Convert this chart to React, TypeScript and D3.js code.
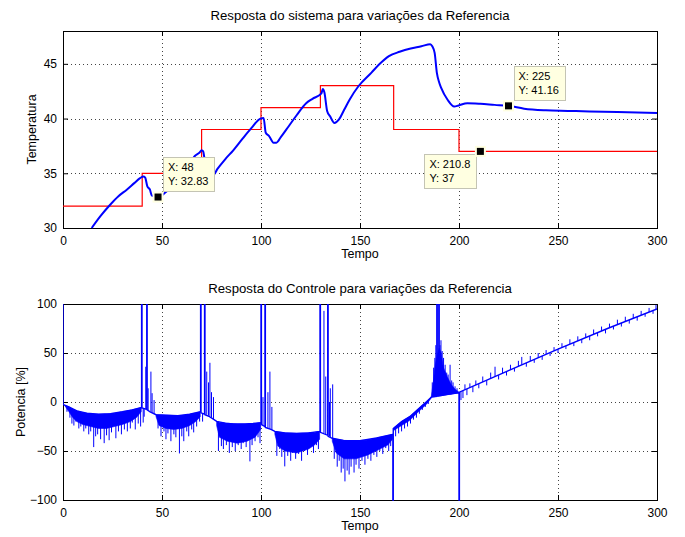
import React, { useEffect, useRef } from 'react';
import * as d3 from 'd3';

// axis ticks
const xTicks = [0, 50, 100, 150, 200, 250, 300];
const tempTicks = [30, 35, 40, 45];
const ctrlTicks = [-100, -50, 0, 50, 100];

// reference (step)
const refT = [0, 40, 70, 100, 130, 167, 200, 300];
const refV = [32, 35, 39, 41, 43, 39, 37, 37];

// measured temperature
const tempT = [14.5, 19, 23.7, 28, 32.2, 36, 38.9, 40.6, 41.5, 42.6, 43.9, 44.8, 46, 48, 52, 56, 60, 63, 66.7, 69, 70, 70.8, 71.5, 73, 75.9, 78, 82, 86, 90.2, 95, 99.7, 101.3, 102.4, 104.1, 106.3, 107.8, 110, 114, 118, 122.8, 126, 130.5, 131.2, 132, 133.4, 134.9, 137.1, 139.3, 142, 144.8, 149.2, 155.8, 160, 164.6, 170, 175.6, 181, 185.5, 186.5, 187.7, 188.8, 190, 191, 194.3, 197.6, 199.8, 204.2, 210.8, 218, 225, 232.9, 243.9, 255, 265.9, 280, 300];
const tempV = [30.0, 31.1, 32.1, 32.9, 33.5, 34.1, 34.55, 34.7, 34.6, 33.8, 33.5, 33.0, 32.9, 32.83, 33.3, 34.0, 34.9, 35.6, 36.6, 36.9, 37.1, 37.0, 36.3, 35.6, 34.85, 35.4, 36.3, 37.1, 38.05, 39.1, 40.0, 40.06, 38.7, 38.4, 37.8, 37.8, 38.3, 39.3, 40.3, 41.4, 41.8, 42.3, 42.7, 42.4, 40.7, 40.2, 39.6, 39.9, 40.8, 41.75, 42.95, 44.2, 45.0, 45.7, 46.1, 46.4, 46.6, 46.8, 46.6, 46.0, 44.2, 43.3, 42.8, 41.7, 41.1, 41.2, 41.4, 41.35, 41.25, 41.16, 40.9, 40.75, 40.7, 40.65, 40.6, 40.5];

// data tips
const tipX = [48, 225, 210.8];
const tipY = [32.83, 41.16, 37];
const tipLabelX = ['48', '225', '210.8'];
const tipLabelY = ['32.83', '41.16', '37'];

// control signal: main trace [t, v]
const ctrlLine = [
  [0, 100], [0, -2], [0.5, -3], [3, -5], [7, -9], [12, -11.5], [18, -12.5], [24, -12], [30, -10], [35, -8], [39.7, -5.5],
  [39.7, 100], [39.9, 100], [39.9, -6], [42.3, -7.5], [42.3, 100], [42.5, 100], [42.5, -8], [44, -10], [47, -13],
  [52, -13.5], [58, -14], [64, -12.5], [69.5, -10], [69.5, 100], [69.7, 100], [69.7, -11], [71.5, -12.5],
  [71.5, 100], [71.7, 100], [71.7, -13], [74, -15], [77.6, -19.8], [82, -21.5], [86, -22.5], [92, -22.5], [96, -22],
  [100, -21], [100, 100], [100.2, 100], [100.2, -23], [102, -25], [102, 100], [102.2, 100], [102.2, -26], [105, -28],
  [107, -30], [112, -31.5], [118, -32], [124, -31.5], [129.8, -30], [129.8, 100], [130, 100], [130, -31], [133.7, -34],
  [133.7, 100], [133.9, 100], [133.9, -35], [136, -37], [141.6, -39.2], [150, -39.5], [158.4, -36.7], [166.6, -33],
  [166.6, -100], [166.8, -100], [166.8, -27], [171, -20], [175.3, -14.7], [179, -8], [183.7, 0.6], [186, 5],
  [188.8, 5.8], [188.8, 100], [189, 100], [189, 6], [189.8, 6.2], [189.8, 100], [190, 100], [190, 6.3], [195, 8],
  [200, 9.5], [200, -100], [200.2, -100], [200.2, 10], [225, 32], [250, 54], [275, 75], [300, 95],
];

// dense noise bands [t, top, bottom]
const bandA = [[1, -3.5, -4], [3, -5, -10], [5, -7.5, -16], [7, -9, -20], [10, -11, -23], [14, -12, -25], [18, -12.5, -27], [22, -12.2, -27], [26, -11.5, -25], [30, -10, -23], [34, -8.4, -20], [37, -7, -16], [39.5, -5.7, -10]];
const bandB = [[47, -13, -15], [48.5, -13.2, -24], [52, -13.5, -27], [56, -13.8, -28], [60, -13.8, -27], [64, -12.5, -24], [67, -11.2, -20], [69.3, -10, -15]];
const bandC = [[77.6, -19.8, -24], [79, -20.8, -36], [83, -21.8, -40], [88, -22.5, -42], [93, -22.4, -40], [97, -21.8, -36], [99.8, -21, -28]];
const bandD = [[107, -30, -33], [108.5, -30.5, -45], [112, -31.5, -50], [118, -32, -52], [124, -31.5, -48], [127, -31, -44], [129.6, -30, -38]];
const bandE = [[136, -37, -40], [138, -38, -52], [142, -39.2, -58], [148, -39.5, -58], [154, -38.8, -54], [160, -36, -48], [164, -34.2, -44], [166.4, -33, -38]];
const bandF = [[167, -26.5, -29], [171, -20, -24], [175, -15, -19], [179, -8, -11], [183.7, 0.6, -2], [186, 5, 4]];
const bandG = [[186, 5, 5.5], [187, 5.3, 20], [188, 5.6, 38], [189, 6, 48], [190, 6.2, 55], [191, 6.5, 50], [192, 6.8, 36], [194, 7.4, 26], [196, 8, 18], [198, 8.8, 13], [200, 9.5, 10]];

// individual spikes [t, from, to]
const ctrlSpikes = [
  [2, -4.5, -10], [3.5, -6, -16], [4.5, -7, -22], [5.5, -8, -24], [6.5, -8.5, -20], [8, -9.5, -27], [9, -10, -25], [10.5, -11, -30], [11.5, -11.3, -27], [13, -11.8, -33], [14, -12, -30], [15.5, -12.2, -46], [16.5, -12.3, -35], [17.5, -12.5, -33], [19, -12.5, -38], [20.8, -12.4, -42], [22, -12.2, -34], [23.3, -12.1, -39], [24.5, -12, -31], [26.7, -11.3, -37], [28, -10.8, -30], [29.5, -10.2, -33], [31, -9.6, -28], [32.5, -9, -30], [34, -8.4, -27], [35, -8, -21], [36.5, -7.3, -28], [38, -6.5, -22], [39.2, -5.8, -25],
  [40.5, -7, -21], [41, -7.2, -15], [41.8, -7.4, 36], [43, -8.5, 14], [44.4, -10, 31], [45, -11, 9], [46, -12, 2],
  [48, -13.1, -27], [49.5, -13.3, -35], [51, -13.4, -30], [52, -13.5, -38], [53, -13.6, -32], [54.5, -13.7, -40], [56, -13.8, -33], [57, -13.9, -36], [58.8, -14, -52.5], [60, -13.8, -35], [61, -13.6, -40], [62.5, -13.2, -30], [63.5, -12.8, -35], [65, -12.2, -28], [66, -11.7, -31], [67.5, -11, -25], [69, -10.2, -20],
  [70.5, -11.5, -20], [72.6, -13, 31], [73.5, -14, 20], [74.2, -14.5, 40], [75, -16, 10], [76, -17.5, 5],
  [78.5, -20.5, -50], [80, -21, -45], [81, -21.2, -48], [82.5, -21.6, -44], [84, -22, -52], [85.5, -22.4, -46], [87, -22.5, -50], [88.5, -22.5, -44], [90, -22.5, -48], [91, -22.5, -42], [92.5, -22.4, -46], [94.4, -22.2, -60.6], [95.5, -22, -44], [97, -21.8, -40], [98.5, -21.5, -36], [99.5, -21.2, -42],
  [101, -24, 5], [103.5, -27, 10], [104.5, -27.5, 31], [105.5, -28.5, -5],
  [108, -30.3, -55], [109.5, -30.7, -48], [110.5, -31, -56], [112, -31.5, -65.7], [113.5, -31.6, -55], [115, -31.8, -60], [116, -31.9, -52], [117.5, -32, -58], [119, -32, -53], [120.5, -32, -60], [122, -31.8, -50], [123.5, -31.6, -54], [125, -31.4, -46], [126.5, -31, -52], [128, -30.6, -44], [129, -30.3, -48],
  [131.8, -32, 93], [132.7, -33, 26], [134.6, -35, 0], [135, -36, 14], [136.2, -37, 18],
  [137, -37.5, -58], [138.5, -38, -66], [139.5, -38.4, -60], [140.5, -38.8, -72], [141.5, -39.1, -68], [142.4, -39.2, -81], [143.5, -39.3, -70], [144.5, -39.4, -74], [145.5, -39.4, -66], [147, -39.5, -72], [148, -39.5, -64], [149.5, -39.5, -68], [151, -39.4, -60], [152.5, -39.2, -64], [154, -38.8, -58], [155.5, -38.3, -60], [157, -37.5, -54], [158.5, -36.7, -56], [160, -36, -50], [161.5, -35.4, -53], [163, -34.6, -47], [164.5, -34, -50], [165.5, -33.6, -45],
  [168, -25, -35], [169.5, -22.8, -32], [171, -20, -30], [172.5, -18.2, -27], [174, -16.3, -25], [175.5, -14.3, -22], [177, -11.7, -18], [178.5, -9, -16], [180, -6.5, -12], [181.5, -3.5, -8], [183, -0.8, -5], [184.5, 2, -2],
  [186.5, 5.2, 20], [187.2, 5.4, 35], [187.8, 5.6, 45], [188.3, 5.7, 58], [190.4, 6.3, 58], [190.9, 6.4, 63], [191.5, 6.6, 52], [192.2, 6.8, 45], [193, 7, 38], [193.8, 7.2, 30], [194.5, 7.5, 28], [195.5, 7.7, 38], [196.3, 8, 22], [197, 8.3, 20], [198, 8.8, 16], [199, 9.2, 14],
  [201, 10.7, 2], [202, 11.6, 4], [203, 12.5, 18], [204, 13.3, 7], [205.5, 14.6, 19], [207, 16, 10], [208.5, 17.3, 22], [210, 18.6, 14], [212, 20.4, 26], [214, 22.2, 17], [216, 23.9, 30], [218.2, 25.8, 36], [220, 27.5, 23], [222, 29.3, 35], [224, 31.1, 27], [226, 32.9, 38], [228, 34.6, 31], [230, 36.4, 42], [231.7, 37.9, 46], [234, 39.9, 36], [236, 41.7, 47], [238, 43.4, 40], [240, 45.2, 50], [242, 47, 43], [244, 48.7, 53], [246, 50.5, 47], [248, 52.2, 56], [250, 54, 50], [252, 55.7, 60], [254, 57.4, 54], [256, 59, 64], [258, 60.7, 57], [260, 62.4, 67], [262, 64.1, 60], [264, 65.8, 70], [266, 67.4, 63], [268, 69.1, 74], [270, 70.8, 67], [272, 72.5, 77], [274, 74.2, 70], [276, 75.8, 80], [278, 77.4, 74], [280, 79, 84], [282, 80.6, 77], [284, 82.2, 87], [286, 83.8, 80], [288, 85.4, 90], [290, 87, 83], [292, 88.6, 93], [294, 90.2, 87], [296, 91.8, 96], [298, 93.4, 90], [299.5, 94.6, 99],
];

const FONT = '"Liberation Sans", Arial, Helvetica, sans-serif';
const BLUE = '#0000ff';

const App = () => {
  const ref = useRef<SVGSVGElement>(null);

  useEffect(() => {
    drawChart();
  }, []);

  const drawChart = () => {
    const svg = d3.select(ref.current);
    svg.selectAll('*').remove();

    const left = 63, right = 657;
    const x = d3.scaleLinear().domain([0, 300]).range([left, right]);
    const yTop = d3.scaleLinear().domain([30, 48]).range([228, 31]);
    const yBot = d3.scaleLinear().domain([-100, 100]).range([500, 304]);

    // axes frame with grid, ticks, labels
    const frame = (y, yTicks, title, ylabel, ylabelX, id) => {
      const [y0, y1] = y.range();
      const g = svg.append('g');
      g.append('rect').attr('x', left).attr('y', y1).attr('width', right - left).attr('height', y0 - y1).attr('fill', '#fff');

      g.selectAll('.gx').data(xTicks.filter(t => t > 0 && t < 300)).join('line')
        .attr('x1', d => Math.round(x(d)) + 0.5).attr('x2', d => Math.round(x(d)) + 0.5)
        .attr('y1', y1).attr('y2', y0)
        .attr('stroke', '#444').attr('stroke-dasharray', '1,3');
      g.selectAll('.gy').data(yTicks.filter(t => y(t) > y1 + 1 && y(t) < y0 - 1)).join('line')
        .attr('y1', d => Math.round(y(d)) + 0.5).attr('y2', d => Math.round(y(d)) + 0.5)
        .attr('x1', left).attr('x2', right)
        .attr('stroke', '#444').attr('stroke-dasharray', '1,3');

      const styleAxis = a => {
        a.select('.domain').remove();
        a.attr('font-size', 12).attr('font-family', FONT);
        a.selectAll('text').attr('fill', '#000');
        a.selectAll('line').attr('stroke', '#000');
      };
      g.append('g').attr('transform', `translate(0,${y0})`)
        .call(d3.axisBottom(x).tickValues(xTicks).tickSize(-5).tickPadding(8)).call(styleAxis);
      g.append('g').attr('transform', `translate(0,${y1})`)
        .call(d3.axisTop(x).tickValues(xTicks).tickSize(-5).tickFormat(() => '')).call(styleAxis);
      g.append('g').attr('transform', `translate(${left},0)`)
        .call(d3.axisLeft(y).tickValues(yTicks).tickSize(-5).tickPadding(6)).call(styleAxis);
      g.append('g').attr('transform', `translate(${right},0)`)
        .call(d3.axisRight(y).tickValues(yTicks).tickSize(-5).tickFormat(() => '')).call(styleAxis);

      g.append('rect').attr('x', left + 0.5).attr('y', y1 + 0.5).attr('width', right - left).attr('height', y0 - y1)
        .attr('fill', 'none').attr('stroke', '#000');

      svg.append('text').attr('x', (left + right) / 2).attr('y', y1 - 11).attr('text-anchor', 'middle')
        .attr('font-family', FONT).attr('font-size', 13.2).text(title);
      svg.append('text').attr('x', (left + right) / 2).attr('y', y0 + 30).attr('text-anchor', 'middle')
        .attr('font-family', FONT).attr('font-size', 12.5).text('Tempo');
      svg.append('text').attr('transform', `translate(${ylabelX},${(y0 + y1) / 2}) rotate(-90)`)
        .attr('text-anchor', 'middle').attr('dy', '0.35em')
        .attr('font-family', FONT).attr('font-size', 12.5).text(ylabel);

      svg.append('clipPath').attr('id', id).append('rect')
        .attr('x', left).attr('y', y1).attr('width', right - left).attr('height', y0 - y1 + 1);
    };

    frame(yTop, tempTicks, 'Resposta do sistema para variações da Referencia', 'Temperatura', 32, 'clipTop');
    frame(yBot, ctrlTicks, 'Resposta do Controle para variações da Referencia', 'Potencia [%]', 21, 'clipBot');

    // top plot lines
    const top = svg.append('g').attr('clip-path', 'url(#clipTop)');
    const refLine = d3.line().x(d => x(d[0])).y(d => yTop(d[1])).curve(d3.curveStepAfter);
    top.append('path').datum(refT.map((t, i) => [t, refV[i]]))
      .attr('d', refLine).attr('fill', 'none').attr('stroke', '#ff0000').attr('stroke-width', 1.2);
    const tempLine = d3.line().x(d => x(d[0])).y(d => yTop(d[1])).curve(d3.curveMonotoneX);
    top.append('path').datum(tempT.map((t, i) => [t, tempV[i]]))
      .attr('d', tempLine).attr('fill', 'none').attr('stroke', BLUE).attr('stroke-width', 2);

    // bottom plot
    const bot = svg.append('g').attr('clip-path', 'url(#clipBot)');
    const band = d3.area().x(d => x(d[0])).y0(d => yBot(d[1])).y1(d => yBot(d[2]));
    [bandA, bandB, bandC, bandD, bandE, bandF, bandG].forEach(b => {
      bot.append('path').datum(b).attr('d', band).attr('fill', BLUE).attr('stroke', BLUE).attr('stroke-width', 0.6);
    });
    bot.selectAll('.spike').data(ctrlSpikes).join('line')
      .attr('x1', d => x(d[0])).attr('x2', d => x(d[0]))
      .attr('y1', d => yBot(d[1])).attr('y2', d => yBot(d[2]))
      .attr('stroke', BLUE).attr('stroke-width', 1);
    const ctrl = d3.line().x(d => x(d[0])).y(d => yBot(d[1]));
    bot.append('path').datum(ctrlLine).attr('d', ctrl)
      .attr('fill', 'none').attr('stroke', BLUE).attr('stroke-width', 1.4);

    // data tips
    tipX.forEach((tx, i) => {
      const mx = x(tx), my = yTop(tipY[i]);
      const g = svg.append('g');
      const rect = g.append('rect');
      const l1 = g.append('text').attr('font-family', FONT).attr('font-size', 11).text(`X: ${tipLabelX[i]}`);
      const l2 = g.append('text').attr('font-family', FONT).attr('font-size', 11).text(`Y: ${tipLabelY[i]}`);
      const w = Math.max(l1.node().getComputedTextLength(), l2.node().getComputedTextLength()) + 11;
      const h = 34;
      const below = i === 2;
      const bx = below ? mx - 4 - w : mx + 5;
      const by = below ? my + 3 : my - 6 - h;
      rect.attr('x', Math.round(bx) + 0.5).attr('y', Math.round(by) + 0.5).attr('width', Math.round(w)).attr('height', h)
        .attr('fill', '#ffffe1').attr('stroke', '#c4c4b4');
      l1.attr('x', bx + 5).attr('y', by + 14);
      l2.attr('x', bx + 5).attr('y', by + 28);
      g.append('rect').attr('x', mx - 5.5).attr('y', my - 5.5).attr('width', 11).attr('height', 11).attr('fill', '#ffffe1');
      g.append('rect').attr('x', mx - 3.5).attr('y', my - 3.5).attr('width', 7).attr('height', 7).attr('fill', '#000');
    });
  };

  return <svg ref={ref} width={685} height={537} style={{ position: 'absolute', left: 0, top: 0, background: '#fff' }} />;
};

export default App;
